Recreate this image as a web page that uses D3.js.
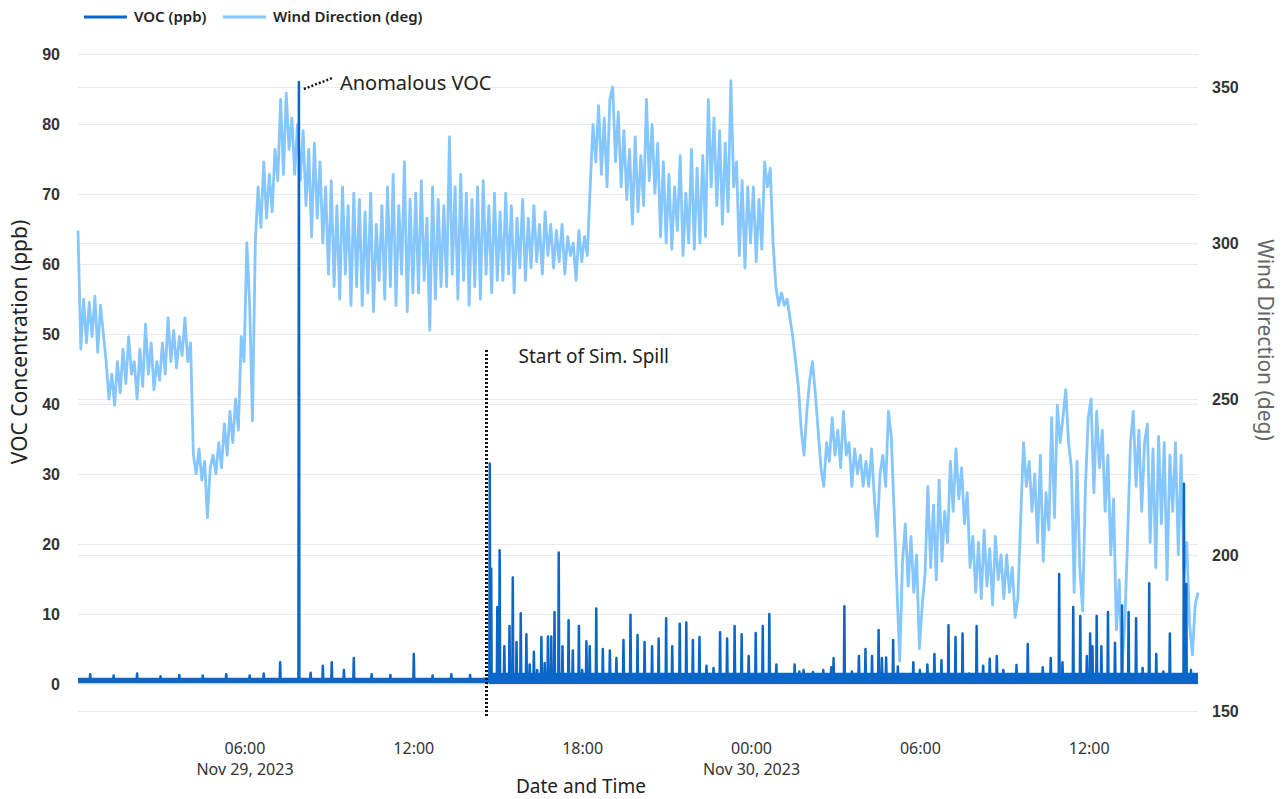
<!DOCTYPE html>
<html>
<head>
<meta charset="utf-8">
<script src="https://cdn.jsdelivr.net/npm/d3@7"></script>
<style>
  body { margin: 0; background: #fff; }
  svg { font-family: "Segoe UI", "Noto Sans", sans-serif; }
</style>
</head>
<body>
<svg id="chart" width="1287" height="799"></svg>
<script>
// ---- data ----
// wind direction, one reading every 6 minutes from Nov 29 00:04
const windStart = "2023-11-29T00:04";
const windStepMinutes = 6;
const windNov29 = [
  304, 266, 282, 268, 281, 270, 283, 265, 280, 271,
  262, 250, 258, 248, 262, 252, 266, 255, 270, 258,
  262, 250, 266, 254, 274, 258, 268, 253, 262, 256,
  268, 258, 276, 262, 272, 260, 270, 264, 276, 262,
  268, 232, 226, 234, 224, 230, 212, 228, 232, 226,
  236, 228, 242, 232, 246, 236, 250, 240, 270, 262,
  300, 280, 243, 300, 318, 305, 326, 308, 322, 310,
  330, 320, 346, 322, 348, 330, 340, 322, 338, 320,
  336, 312, 330, 302, 332, 308, 326, 300, 318, 290,
  320, 286, 312, 282, 318, 290, 312, 280, 316, 286,
  314, 280, 310, 284, 316, 278, 306, 288, 312, 282,
  318, 286, 322, 280, 312, 290, 326, 278, 314, 284,
  316, 284, 320, 288, 308, 272, 318, 282, 314, 286,
  312, 286, 334, 290, 318, 282, 322, 288, 316, 280,
  314, 286, 318, 282, 320, 290, 312, 284, 316, 288,
  310, 288, 316, 290, 312, 284, 308, 292, 314, 288,
  308, 292, 312, 294, 306, 290, 310, 296, 306, 292,
  304, 294, 306, 290, 302, 296, 300, 288, 304, 294,
  302, 296, 318, 338, 326, 344, 322, 340, 318, 346,
  350, 326, 342, 318, 336, 314, 330, 306, 334, 310,
  328, 312, 346, 320, 338, 316, 332, 302, 326, 300,
  322, 298, 318, 304, 328, 296, 316, 300, 330, 298,
  324, 300, 328, 302, 346, 318, 340, 312, 336, 306,
  332, 310, 352, 318, 326, 296, 320, 292, 318, 300
];
const windNov30 = [
  318, 294, 314, 298, 326, 318, 324, 300, 286, 280,
  284, 280, 282, 276, 270, 262, 254, 240, 232, 246,
  256, 262, 252, 240, 228, 222, 236, 230, 244, 232,
  240, 228, 246, 232, 236, 222, 234, 226, 232, 222,
  230, 222, 234, 218, 206, 226, 232, 222, 246, 238,
  214, 190, 166, 198, 210, 190, 206, 188, 200, 170,
  184, 194, 222, 196, 216, 192, 224, 198, 214, 204,
  230, 214, 234, 218, 228, 210, 220, 196, 206, 188,
  204, 186, 208, 190, 202, 184, 206, 192, 200, 186,
  200, 188, 196, 180, 186, 212, 236, 222, 230, 214,
  226, 204, 232, 198, 220, 208, 244, 212, 248, 236,
  244, 253, 236, 228, 188, 230, 196, 182, 222, 244,
  250, 220, 246, 228, 240, 214, 232, 200, 218, 176,
  192, 164, 178, 206, 236, 246, 222, 240, 214, 236,
  242, 204, 234, 196, 238, 210, 236, 192, 232, 214,
  236, 200, 232, 194, 204, 178, 168, 184, 188
];

// VOC: noisy background band plus short peaks
const vocBandTimes = ["2023-11-29T00:04", "2023-11-29T14:40", "2023-11-30T15:52"];
const vocBandLow = [0.1, 0.0, 0.0];
const vocBandHigh = [0.9, 1.6, 1.6];
const vocBasePre = 0.5;
const vocBasePost = 0.8;
const vocSpikeTimes = [
  "2023-11-29T00:30", "2023-11-29T01:20", "2023-11-29T02:10", "2023-11-29T03:00",
  "2023-11-29T03:40", "2023-11-29T04:30", "2023-11-29T05:20", "2023-11-29T06:10",
  "2023-11-29T06:40", "2023-11-29T07:15", "2023-11-29T07:55", "2023-11-29T08:20",
  "2023-11-29T08:46", "2023-11-29T09:05", "2023-11-29T09:31", "2023-11-29T09:52",
  "2023-11-29T10:30", "2023-11-29T11:10", "2023-11-29T12:00", "2023-11-29T12:40",
  "2023-11-29T13:20", "2023-11-29T14:00",
  "2023-11-29T14:42", "2023-11-29T14:45", "2023-11-29T14:58", "2023-11-29T15:03",
  "2023-11-29T15:13", "2023-11-29T15:24", "2023-11-29T15:31", "2023-11-29T15:39",
  "2023-11-29T15:48", "2023-11-29T16:00", "2023-11-29T16:07", "2023-11-29T16:16",
  "2023-11-29T16:23", "2023-11-29T16:32", "2023-11-29T16:39", "2023-11-29T16:46",
  "2023-11-29T16:53", "2023-11-29T17:00", "2023-11-29T17:09", "2023-11-29T17:17",
  "2023-11-29T17:30", "2023-11-29T17:39", "2023-11-29T17:52", "2023-11-29T17:59",
  "2023-11-29T18:08", "2023-11-29T18:15", "2023-11-29T18:29", "2023-11-29T18:43",
  "2023-11-29T18:58", "2023-11-29T19:12", "2023-11-29T19:27", "2023-11-29T19:42",
  "2023-11-29T19:57", "2023-11-29T20:12", "2023-11-29T20:28", "2023-11-29T20:42",
  "2023-11-29T20:58", "2023-11-29T21:11", "2023-11-29T21:27", "2023-11-29T21:41",
  "2023-11-29T21:55", "2023-11-29T22:09", "2023-11-29T22:24", "2023-11-29T22:39",
  "2023-11-29T22:53", "2023-11-29T23:08", "2023-11-29T23:24", "2023-11-29T23:39",
  "2023-11-29T23:54",
  "2023-11-30T00:09", "2023-11-30T00:24", "2023-11-30T00:38", "2023-11-30T00:53",
  "2023-11-30T01:32", "2023-11-30T01:42", "2023-11-30T01:51", "2023-11-30T02:11",
  "2023-11-30T02:33", "2023-11-30T02:50", "2023-11-30T02:55", "2023-11-30T03:18",
  "2023-11-30T03:34", "2023-11-30T03:49", "2023-11-30T04:03", "2023-11-30T04:17",
  "2023-11-30T04:31", "2023-11-30T04:38", "2023-11-30T04:47", "2023-11-30T05:02",
  "2023-11-30T05:12", "2023-11-30T05:45", "2023-11-30T05:59", "2023-11-30T06:15",
  "2023-11-30T06:30", "2023-11-30T06:45", "2023-11-30T07:00", "2023-11-30T07:15",
  "2023-11-30T07:30", "2023-11-30T07:44", "2023-11-30T08:00", "2023-11-30T08:14",
  "2023-11-30T08:28", "2023-11-30T08:43", "2023-11-30T08:57", "2023-11-30T09:11",
  "2023-11-30T09:25", "2023-11-30T09:49", "2023-11-30T10:21", "2023-11-30T10:38",
  "2023-11-30T10:56", "2023-11-30T11:03", "2023-11-30T11:26", "2023-11-30T11:41",
  "2023-11-30T11:55", "2023-11-30T12:02", "2023-11-30T12:07", "2023-11-30T12:16",
  "2023-11-30T12:26", "2023-11-30T12:40", "2023-11-30T12:55", "2023-11-30T13:10",
  "2023-11-30T13:24", "2023-11-30T13:40", "2023-11-30T13:54", "2023-11-30T14:08",
  "2023-11-30T14:23", "2023-11-30T14:38", "2023-11-30T14:52", "2023-11-30T15:22",
  "2023-11-30T15:27", "2023-11-30T15:37"
];
const vocSpikeValues = [
  1.4, 1.2, 1.5, 1.1,
  1.3, 1.2, 1.4, 1.2,
  1.5, 3.1, 86, 1.6,
  2.6, 3.1, 2.0, 3.7,
  1.4, 1.3, 4.3, 1.2,
  1.4, 1.3,
  31.5, 16.5, 11.0, 19.1,
  5.4, 8.3, 15.2, 6.0,
  10.1, 7.1, 2.8, 4.6,
  2.0, 6.7, 3.0, 6.8,
  6.8, 10.3, 18.8, 5.4,
  9.1, 4.8, 8.3, 2.0,
  6.1, 5.4, 10.8, 5.0,
  4.8, 3.7, 6.3, 9.9,
  7.0, 6.0, 5.4, 6.5,
  9.4, 5.4, 8.6, 8.8,
  6.3, 6.7, 2.6, 2.3,
  7.4, 6.5, 8.3, 7.1,
  4.0,
  7.3, 8.3, 10.0, 2.8,
  2.8, 1.8, 2.0, 1.7,
  2.0, 2.4, 3.7, 11.1,
  1.8, 4.0, 5.0, 4.0,
  7.7, 3.7, 3.8, 6.3,
  2.5, 3.1, 2.0, 2.8,
  4.3, 3.4, 8.4, 6.7,
  7.2, 1.5, 8.3, 2.6,
  3.6, 4.0, 2.0, 1.2,
  2.7, 5.7, 2.4, 3.7,
  15.7, 3.1, 11.0, 9.7,
  4.0, 7.2, 5.4, 9.7,
  5.4, 10.3, 5.9, 11.2,
  10.3, 9.4, 2.3, 14.4,
  4.3, 1.8, 7.2, 28.6,
  14.3, 2.0
];

const spillTime = "2023-11-29T14:35";
const anomalyTime = "2023-11-29T07:55";
const timeDomain = ["2023-11-29T00:04", "2023-11-30T15:52"];
const timeTicks = ["2023-11-29T06:00", "2023-11-29T12:00", "2023-11-29T18:00",
                   "2023-11-30T00:00", "2023-11-30T06:00", "2023-11-30T12:00"];
const leftTicks = [0, 10, 20, 30, 40, 50, 60, 70, 80, 90];
const rightTicks = [150, 200, 250, 300, 350];

// ---- setup ----
const parse = d3.timeParse("%Y-%m-%dT%H:%M");
const svg = d3.select("#chart");
const plot = { left: 78, right: 1198 };

const x = d3.scaleTime().domain(timeDomain.map(parse)).range([plot.left, plot.right]);
const yLeft = d3.scaleLinear().domain([0, 90]).range([684, 54]);
const yRight = d3.scaleLinear().domain([150, 350]).range([711, 87]);

const vocColor = "#0a66c8";
const windColor = "#84c6fd";
const gridColor = "#e9e9ef";

// gridlines + tick labels, left axis
const gLeft = svg.append("g")
    .attr("transform", `translate(${plot.left},0)`)
    .call(d3.axisLeft(yLeft).tickValues(leftTicks).tickSize(-(plot.right - plot.left)).tickPadding(18));
gLeft.select(".domain").remove();
gLeft.selectAll("line").attr("stroke", gridColor);
gLeft.selectAll("text").attr("fill", "#333").style("font-size", "16px").style("font-weight", "600");

// right axis
const gRight = svg.append("g")
    .attr("transform", `translate(${plot.right},0)`)
    .call(d3.axisRight(yRight).tickValues(rightTicks).tickSize(-(plot.right - plot.left)).tickPadding(14));
gRight.select(".domain").remove();
gRight.selectAll("line").attr("stroke", gridColor);
gRight.selectAll("text").attr("fill", "#333").style("font-size", "16px").style("font-weight", "600");

// bottom axis labels
const fmtTime = d3.timeFormat("%H:%M");
const fmtDate = d3.timeFormat("%b %-d, %Y");
const ticks = timeTicks.map(parse);
const xLabels = svg.append("g").attr("fill", "#333").style("font-size", "16px").attr("text-anchor", "middle");
ticks.forEach((t, i) => {
    xLabels.append("text").attr("x", x(t)).attr("y", 754).text(fmtTime(t));
    if (i === 0 || t.getHours() === 0) {
        xLabels.append("text").attr("x", x(t)).attr("y", 775).text(fmtDate(t));
    }
});

// wind line
const windValues = windNov29.concat(windNov30);
const t0 = parse(windStart);
const windData = windValues.map((v, i) => ({ t: d3.timeMinute.offset(t0, i * windStepMinutes), v }));

svg.append("path")
    .datum(windData)
    .attr("fill", "none")
    .attr("stroke", windColor)
    .attr("stroke-width", 2.8)
    .attr("stroke-linejoin", "round")
    .attr("d", d3.line().x(d => x(d.t)).y(d => yRight(d.v)));

// VOC background noise band
const band = vocBandTimes.map((s, i) => ({ t: parse(s), lo: vocBandLow[i], hi: vocBandHigh[i] }));
svg.append("path")
    .datum(band)
    .attr("fill", vocColor)
    .attr("d", d3.area().curve(d3.curveStepAfter)
        .x(d => x(d.t)).y0(d => yLeft(d.lo)).y1(d => yLeft(d.hi)));

// VOC line: each peak rises from and returns to the background level
const spill = parse(spillTime);
const domain = x.domain();
const vocData = [{ t: domain[0], v: vocBasePre }];
vocSpikeTimes.forEach((s, i) => {
    const t = parse(s);
    const base = t < spill ? vocBasePre : vocBasePost;
    vocData.push({ t: d3.timeMinute.offset(t, -1), v: base });
    vocData.push({ t, v: vocSpikeValues[i] });
    vocData.push({ t: d3.timeMinute.offset(t, 1), v: base });
});
vocData.push({ t: domain[1], v: vocBasePost });
vocData.sort((a, b) => a.t - b.t);

svg.append("path")
    .datum(vocData)
    .attr("fill", "none")
    .attr("stroke", vocColor)
    .attr("stroke-width", 2.5)
    .attr("stroke-linejoin", "round")
    .attr("d", d3.line().x(d => x(d.t)).y(d => yLeft(d.v)));

// annotations
svg.append("line")
    .attr("x1", x(spill)).attr("x2", x(spill))
    .attr("y1", yLeft(47.7)).attr("y2", yLeft(-4.6))
    .attr("stroke", "#111").attr("stroke-width", 3).attr("stroke-dasharray", "2,2");
svg.append("text")
    .attr("x", x(spill) + 32).attr("y", yLeft(47.7) + 13)
    .attr("fill", "#222").style("font-size", "19px")
    .text("Start of Sim. Spill");

const anomaly = parse(anomalyTime);
svg.append("line")
    .attr("x1", x(anomaly) + 5).attr("y1", yLeft(85))
    .attr("x2", x(anomaly) + 34).attr("y2", yLeft(86.6))
    .attr("stroke", "#111").attr("stroke-width", 2.5).attr("stroke-dasharray", "2,2");
svg.append("text")
    .attr("x", x(anomaly) + 41).attr("y", yLeft(86) + 8)
    .attr("fill", "#222").style("font-size", "20px")
    .text("Anomalous VOC");

// axis titles
svg.append("text")
    .attr("transform", `translate(27,342) rotate(-90)`)
    .attr("text-anchor", "middle").attr("fill", "#222").style("font-size", "21px")
    .text("VOC Concentration (ppb)");
svg.append("text")
    .attr("transform", `translate(1258,340) rotate(90)`)
    .attr("text-anchor", "middle").attr("fill", "#666").style("font-size", "21px")
    .text("Wind Direction (deg)");
svg.append("text")
    .attr("x", 581).attr("y", 793)
    .attr("text-anchor", "middle").attr("fill", "#222").style("font-size", "19px")
    .text("Date and Time");

// legend
const legendItems = [
    { name: "VOC (ppb)", color: vocColor, x: 84 },
    { name: "Wind Direction (deg)", color: windColor, x: 223 }
];
const legend = svg.append("g");
legendItems.forEach(d => {
    legend.append("line")
        .attr("x1", d.x).attr("x2", d.x + 43).attr("y1", 17).attr("y2", 17)
        .attr("stroke", d.color).attr("stroke-width", 3);
    legend.append("text")
        .attr("x", d.x + 50).attr("y", 22)
        .attr("fill", "#252423").style("font-size", "15px").style("font-weight", "600")
        .text(d.name);
});
</script>
</body>
</html>
